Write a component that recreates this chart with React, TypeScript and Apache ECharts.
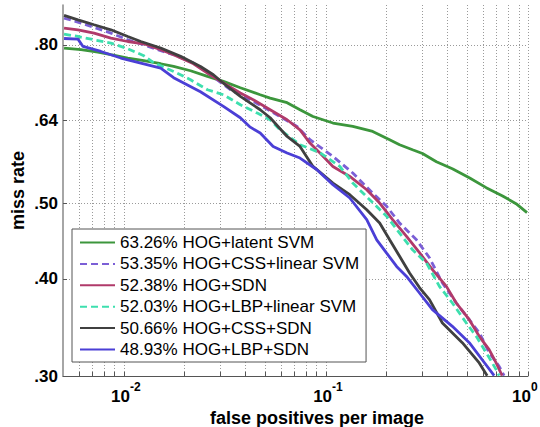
import React, { useEffect, useRef } from "react";
import * as echarts from "echarts";

const seriesNames = [
  "63.26% HOG+latent SVM",
  "53.35% HOG+CSS+linear SVM",
  "52.38% HOG+SDN",
  "52.03% HOG+LBP+linear SVM",
  "50.66% HOG+CSS+SDN",
  "48.93% HOG+LBP+SDN",
];

const seriesColors = ["#3c963c", "#7b5fd6", "#b03a6a", "#3ddfae", "#404040", "#4b3fd6"];
const seriesDashed = [false, true, false, true, false, false];

// [false positives per image, miss rate]
const latentSvm = [
  [0.00506, 0.7923], [0.00614, 0.7884], [0.00744, 0.783], [0.00863, 0.7768], [0.01046, 0.7692],
  [0.01255, 0.7631], [0.01522, 0.7563], [0.01763, 0.7502], [0.02138, 0.7408], [0.02593, 0.7284],
  [0.0311, 0.7177], [0.03771, 0.7044], [0.04729, 0.6899], [0.05297, 0.6832], [0.06425, 0.6739],
  [0.07442, 0.66], [0.0863, 0.647], [0.1083, 0.6345], [0.1358, 0.6281], [0.1704, 0.6189],
  [0.2067, 0.6039], [0.2315, 0.5951], [0.2683, 0.5863], [0.3005, 0.5797], [0.3522, 0.5658],
  [0.4223, 0.5541], [0.5122, 0.5396], [0.6211, 0.524], [0.7446, 0.5117], [0.8727, 0.4997],
  [0.9888, 0.4866],
];

const cssLinearSvm = [
  [0.00506, 0.8659], [0.00614, 0.8531], [0.00863, 0.8282], [0.01046, 0.8119], [0.01255, 0.8],
  [0.01522, 0.7861], [0.01763, 0.7768], [0.02212, 0.7579], [0.02683, 0.732], [0.03366, 0.7003],
  [0.04223, 0.6798], [0.05297, 0.658], [0.07197, 0.6281], [0.0834, 0.6039], [0.1083, 0.5748],
  [0.1358, 0.5472], [0.1704, 0.5157], [0.1998, 0.4958], [0.2315, 0.4719], [0.2807, 0.449],
  [0.3254, 0.4258], [0.3771, 0.3952], [0.4418, 0.3724], [0.5122, 0.3544], [0.5737, 0.3411],
  [0.6425, 0.3215], [0.7198, 0.3087], [0.7617, 0.3003],
];

const sdn = [
  [0.00506, 0.8406], [0.00593, 0.8363], [0.00712, 0.8282], [0.00863, 0.816], [0.01046, 0.8078],
  [0.01255, 0.8024], [0.01522, 0.7884], [0.01763, 0.7768], [0.02212, 0.7563], [0.02593, 0.7357],
  [0.0311, 0.7143], [0.03771, 0.6934], [0.04369, 0.6798], [0.05297, 0.66], [0.06425, 0.6407],
  [0.07442, 0.6219], [0.0834, 0.598], [0.09342, 0.5806], [0.1083, 0.558], [0.1313, 0.5417],
  [0.1592, 0.5208], [0.1845, 0.5007], [0.2138, 0.4766], [0.2506, 0.4535], [0.2904, 0.4322],
  [0.3366, 0.411], [0.3946, 0.3912], [0.4418, 0.3724], [0.5122, 0.3544], [0.5737, 0.3374],
  [0.6425, 0.3244], [0.6958, 0.3118], [0.7446, 0.3003],
];

const lbpLinearSvm = [
  [0.00506, 0.8258], [0.00593, 0.8199], [0.00712, 0.8119], [0.00863, 0.8041], [0.01046, 0.7907],
  [0.01255, 0.7745], [0.01405, 0.7586], [0.01763, 0.7393], [0.02138, 0.7213], [0.02593, 0.7003],
  [0.0311, 0.6899], [0.03771, 0.6699], [0.04572, 0.6535], [0.05297, 0.6407], [0.05934, 0.6219],
  [0.07442, 0.5951], [0.09342, 0.5811], [0.1172, 0.558], [0.1358, 0.5312], [0.1647, 0.5057],
  [0.1998, 0.4813], [0.2315, 0.4581], [0.2683, 0.4359], [0.3145, 0.4192], [0.3645, 0.3912],
  [0.4223, 0.3724], [0.4951, 0.351], [0.5545, 0.3374], [0.6211, 0.3215], [0.6958, 0.3057],
  [0.7198, 0.3003],
];

const cssSdn = [
  [0.00506, 0.8726], [0.00593, 0.8614], [0.00712, 0.8488], [0.00863, 0.8363], [0.01046, 0.8199],
  [0.01213, 0.8078], [0.01522, 0.7923], [0.01909, 0.773], [0.02394, 0.7502], [0.02774, 0.732],
  [0.03253, 0.7071], [0.03771, 0.6865], [0.04729, 0.66], [0.05297, 0.6445], [0.06425, 0.6098],
  [0.07442, 0.5921], [0.0863, 0.558], [0.1083, 0.5312], [0.1313, 0.5132], [0.1592, 0.4909],
  [0.1845, 0.4719], [0.2067, 0.449], [0.2315, 0.4276], [0.2594, 0.407], [0.2904, 0.3898],
  [0.3254, 0.3761], [0.3771, 0.351], [0.473, 0.3311], [0.5737, 0.3118], [0.628, 0.3003],
];

const lbpSdn = [
  [0.00506, 0.815], [0.00593, 0.8135], [0.00628, 0.796], [0.0077, 0.7843], [0.00966, 0.7692],
  [0.01213, 0.7579], [0.01522, 0.7467], [0.01763, 0.7256], [0.02394, 0.6962], [0.0311, 0.6665],
  [0.03771, 0.6445], [0.04223, 0.6268], [0.04729, 0.616], [0.05482, 0.5921], [0.06425, 0.5806],
  [0.07442, 0.572], [0.0903, 0.5525], [0.1083, 0.5286], [0.1313, 0.5082], [0.1592, 0.4766],
  [0.1784, 0.449], [0.1998, 0.4316], [0.2238, 0.415], [0.2506, 0.4029], [0.2904, 0.3836],
  [0.3366, 0.3651], [0.4223, 0.3475], [0.5122, 0.3311], [0.5934, 0.3148], [0.6801, 0.3003],
];

const seriesData = [latentSvm, cssLinearSvm, sdn, lbpLinearSvm, cssSdn, lbpSdn];

const xRange = [0.005, 1];
const yRange = [0.3, 0.9];
const xGridTicks = [
  0.006, 0.007, 0.008, 0.009, 0.01,
  0.02, 0.03, 0.04, 0.05, 0.06, 0.07, 0.08, 0.09, 0.1,
  0.2, 0.3, 0.4, 0.5, 0.6, 0.7, 0.8, 0.9, 1,
];
const xLabelTicks = [0.01, 0.1, 1];
const yTicks = [0.3, 0.4, 0.5, 0.64, 0.8];

const FONT = '"Liberation Sans", Arial, Helvetica, sans-serif';

export default function App() {
  const ref = useRef<HTMLDivElement>(null);

  useEffect(() => {
    document.body.style.margin = "0";
    if (!ref.current) return;
    const chart = echarts.init(ref.current, undefined, { renderer: "svg" });
    const lg = (v: number) => Math.log10(v);
    const gridLine = { show: true, lineStyle: { color: "#9a9a9a", width: 1, type: [1, 2] as any } };
    const baseTok = { fontFamily: FONT, fontWeight: "bold", color: "#000" };

    const option: any = {
      animation: false,
      backgroundColor: "#ffffff",
      textStyle: { fontFamily: FONT },
      grid: { left: 63, right: 12, top: 5, bottom: 51, containLabel: false, outerBoundsMode: "none" },
      xAxis: {
        type: "value",
        min: lg(xRange[0]),
        max: lg(xRange[1]),
        name: "false positives per image",
        nameLocation: "middle",
        nameGap: 32.5,
        nameMoveOverlap: false,
        nameTextStyle: {
          fontFamily: FONT,
          fontSize: 18,
          lineHeight: 18,
          fontWeight: "bold",
          color: "#000",
          padding: [0, 0, 0, 43],
        },
        axisLine: { show: true, onZero: false, lineStyle: { color: "#555", width: 1 } },
        axisTick: {
          show: true,
          inside: true,
          length: 4,
          customValues: xGridTicks.map(lg),
          lineStyle: { color: "#555", width: 1 },
        },
        splitLine: gridLine,
        axisLabel: {
          customValues: xLabelTicks.map(lg),
          margin: 12,
          color: "#000",
          formatter: (v: number) => {
            const e = Math.round(v);
            return e === 0 ? `{e|10}{s|${e}}{sp| }` : `{b|10}{s|${e}}`;
          },
          rich: {
            b: { ...baseTok, fontSize: 17, lineHeight: 17, padding: [0, 0, 0, 4] },
            e: { ...baseTok, fontSize: 17, lineHeight: 17 },
            s: { ...baseTok, fontSize: 12, lineHeight: 12, padding: [0, 0, 20, 0] },
            sp: { ...baseTok, fontSize: 12, lineHeight: 12, padding: [0, 3, 0, 0] },
          },
        },
      },
      yAxis: {
        type: "value",
        min: lg(yRange[0]),
        max: lg(yRange[1]),
        name: "miss rate",
        nameLocation: "middle",
        nameGap: 36,
        nameMoveOverlap: false,
        nameTextStyle: { fontFamily: FONT, fontSize: 18, fontWeight: "bold", color: "#000" },
        axisLine: { show: true, onZero: false, lineStyle: { color: "#888", width: 1.5 } },
        axisTick: {
          show: true,
          inside: true,
          length: 4,
          customValues: yTicks.map(lg),
          lineStyle: { color: "#555", width: 1 },
        },
        splitLine: gridLine,
        axisLabel: {
          customValues: yTicks.map(lg),
          margin: 5,
          fontFamily: FONT,
          fontSize: 17,
          fontWeight: "bold",
          color: "#000",
          formatter: (v: number) => Math.pow(10, v).toFixed(2).replace(/^0/, ""),
        },
      },
      legend: {
        show: true,
        orient: "vertical",
        left: 72,
        top: 229,
        padding: [5, 7, 4, 7],
        itemGap: 4.4,
        itemWidth: 35,
        itemHeight: 12,
        backgroundColor: "#ffffff",
        borderColor: "#555",
        borderWidth: 1,
        borderRadius: 0,
        itemStyle: { opacity: 0 },
        textStyle: { fontFamily: FONT, fontSize: 17, color: "#000", lineHeight: 17 },
        data: seriesNames,
      },
      series: seriesNames.map((name, i) => ({
        name,
        type: "line",
        data: seriesData[i].map(([x, y]) => [lg(x), lg(y)]),
        showSymbol: false,
        symbol: "none",
        clip: true,
        color: seriesColors[i],
        lineStyle: {
          color: seriesColors[i],
          width: 2.8,
          type: seriesDashed[i] ? [7, 4] : "solid",
        },
        emphasis: { disabled: true },
        z: 2 + i,
      })),
    };

    chart.setOption(option);
    return () => chart.dispose();
  }, []);

  return <div ref={ref} style={{ width: 540, height: 427 }} />;
}
